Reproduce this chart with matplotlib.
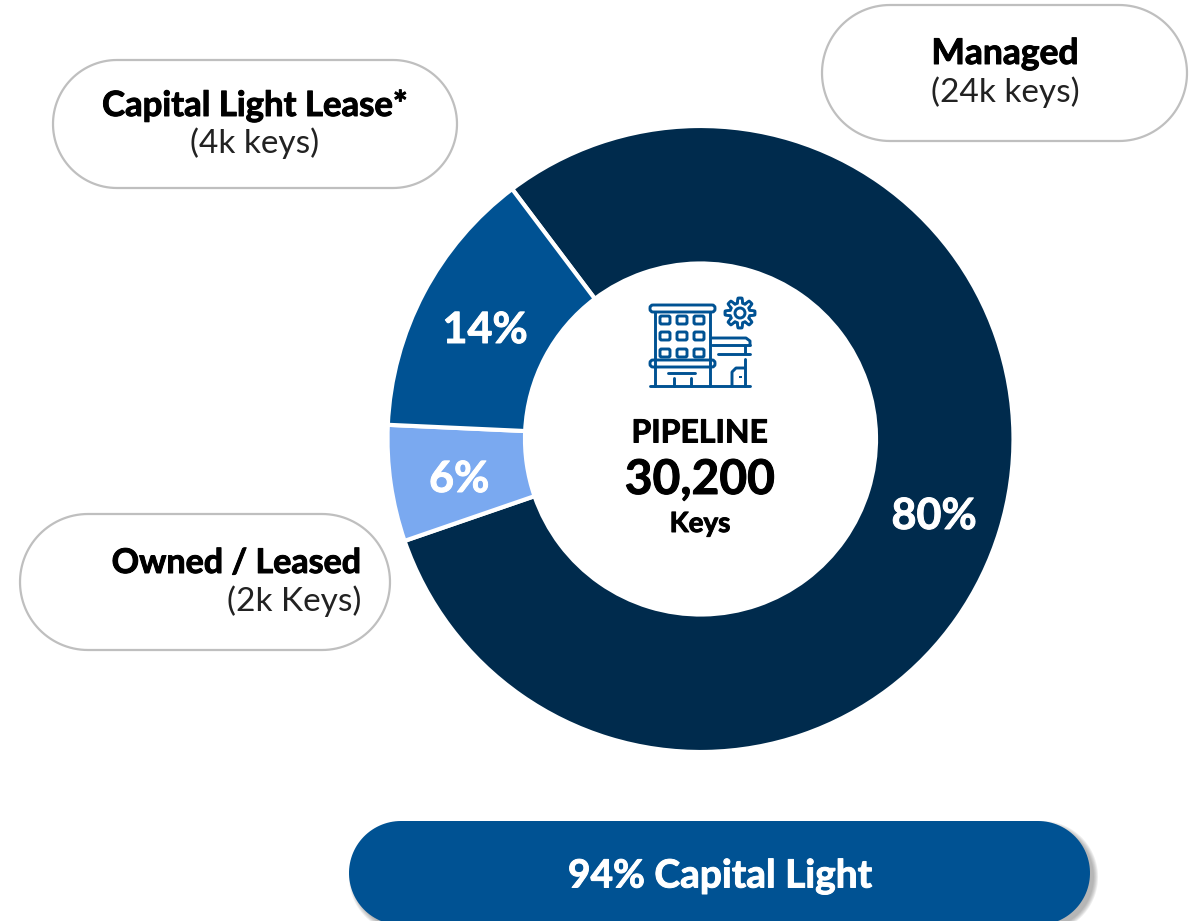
import numpy as np
import matplotlib.pyplot as plt
from matplotlib.patches import Polygon, FancyBboxPatch, Rectangle, Circle
import matplotlib.patheffects as pe

plt.rcParams['font.family'] = ['Lato', 'DejaVu Sans']

shares = [80, 6, 14]
share_labels = ['80%', '6%', '14%']
colors = ['#002B4D', '#7AA9F0', '#005293']
callouts = [('Managed', '(24k keys)'), ('Capital Light Lease*', '(4k keys)'), ('Owned / Leased', '(2k Keys)')]
center_lines = ['PIPELINE', '30,200', 'Keys']
banner = '94% Capital Light'

W, H = 1195, 921
fig = plt.figure(figsize=(W / 100, H / 100), dpi=100)
ax = fig.add_axes([0, 0, 1, 1])

# donut, y axis is inverted so a counterclockwise pie reads clockwise on screen
cx, cy, R = 700.5, 439, 313
ax.pie(shares, colors=colors, center=(cx, cy), radius=R, startangle=-127, counterclock=True,
       wedgeprops=dict(width=R - 175.5, edgecolor='white', linewidth=3), frame=True)
ax.set_xlim(0, W)
ax.set_ylim(H, 0)
ax.set_aspect('equal')
ax.axis('off')


def bold(x, y, txt, size, color='black', ha='center'):
    # Lato bold is a bit light next to the original face, thicken it slightly
    t = ax.text(x, y, txt, fontsize=size, fontweight='bold', ha=ha, va='center', color=color)
    t.set_path_effects([pe.withStroke(linewidth=0.7, foreground=color)])


label_pos = [(934, 516), (459, 479), (485, 330)]
for txt, (x, y) in zip(share_labels, label_pos):
    bold(x, y, txt, 31, 'white')


def pill(x0, y0, x1, y1, **kw):
    r = (y1 - y0) / 2
    t = np.linspace(-np.pi / 2, np.pi / 2, 60)
    right = np.column_stack([x1 - r + r * np.cos(t), y0 + r + r * np.sin(t)])
    left = np.column_stack([x0 + r - r * np.cos(t), y1 - r - r * np.sin(t)])
    p = Polygon(np.vstack([right, left]), closed=True, **kw)
    ax.add_patch(p)
    return p


pill(822, 5, 1187, 141, fc='white', ec='#BFBFBF', lw=1.6)
pill(53, 60, 457, 188, fc='white', ec='#BFBFBF', lw=1.6)
pill(20, 514, 390, 650, fc='white', ec='#BFBFBF', lw=1.6)

bold(1005, 54, callouts[0][0], 25.5)
ax.text(1005, 92, callouts[0][1], fontsize=24, ha='center', va='center', color='#222222')
bold(255, 106, callouts[1][0], 25)
ax.text(255, 143, callouts[1][1], fontsize=24, ha='center', va='center', color='#222222')
bold(361, 563, callouts[2][0], 24.5, ha='right')
ax.text(361, 601, callouts[2][1], fontsize=24, ha='right', va='center', color='#222222')

bold(700, 433, center_lines[0], 23)
bold(700, 480, center_lines[1], 34.5)
bold(700, 524, center_lines[2], 20)

# banner, soft shadow from stacked faint pills
for grow in [4, 3, 2, 1, 0]:
    pill(349 + 4 - grow, 821 + 4 - grow, 1090 + 4 + grow, 925 + 4 + grow, fc='#555555', ec='none', alpha=0.1)
pill(349, 821, 1090, 925, fc='#005293', ec='none')
bold(720, 876, banner, 28, 'white')

# hotel icon
ic = '#005293'
lw = 2.1


def line(xs, ys):
    ax.plot(xs, ys, color=ic, lw=lw, solid_capstyle='round', solid_joinstyle='round')


def band(x0, y0, x1, y1):
    ax.add_patch(FancyBboxPatch((x0, y0), x1 - x0, y1 - y0, boxstyle='round,pad=0,rounding_size=3',
                                fc='white', ec=ic, lw=lw))


line([655, 655], [312, 386])
line([710, 710], [312, 386])
band(650, 305, 715, 312)
for wx in [660, 677, 694]:
    for wy in [316, 332, 349]:
        ax.add_patch(FancyBboxPatch((wx, wy), 10, 8, boxstyle='round,pad=0,rounding_size=1.5', fc='none', ec=ic, lw=lw))
band(650, 360, 715, 367)
line([668, 695], [373, 373])
line([674, 674], [378, 386])
line([691, 691], [378, 386])
line([650, 750], [386, 386])
line([712, 746, 750, 750], [338, 338, 341, 345])
line([712, 750], [345, 345])
line([745, 745], [345, 353])
line([718, 750], [354, 354])
line([745, 745], [359, 386])
line([732, 732, 736, 745], [386, 372, 368, 368])
ax.add_patch(Rectangle((739, 376), 3, 2, fc=ic, ec='none'))

# gear
t = np.linspace(0, 2 * np.pi, 241)
gear_r = 12.5 + 2.5 * np.clip(2.2 * np.cos(8 * t), -1, 1)
ax.add_patch(Polygon(np.column_stack([740 + gear_r * np.cos(t), 313 + gear_r * np.sin(t)]), closed=True,
                     fc='none', ec=ic, lw=lw, joinstyle='round'))
ax.add_patch(Circle((740, 313), 5, fc='none', ec=ic, lw=lw))

fig.savefig('out.png', dpi=100, facecolor='white')
